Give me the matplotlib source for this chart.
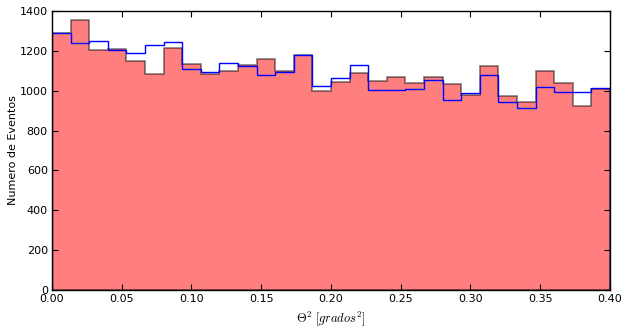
import numpy as np
import matplotlib
matplotlib.use("Agg")
import matplotlib.pyplot as plt

plt.rcParams["mathtext.fontset"] = "cm"
plt.rcParams["font.size"] = 8

# 30 bins of theta^2 between 0 and 0.4 deg^2
bin_edges = np.linspace(0.0, 0.4, 31)

# counts per bin, on-source (red) and background (blue)
on_counts = [1288, 1353, 1206, 1208, 1149, 1084, 1216, 1132, 1082, 1097,
             1127, 1159, 1099, 1181, 1000, 1045, 1087, 1050, 1067, 1037,
             1067, 1032, 977, 1126, 971, 942, 1097, 1040, 922, 1009]
off_counts = [1288, 1238, 1251, 1203, 1188, 1231, 1243, 1107, 1092, 1137,
              1122, 1078, 1092, 1181, 1025, 1062, 1129, 1005, 1002, 1009,
              1052, 953, 988, 1080, 943, 914, 1019, 993, 993, 1012]

centers = 0.5 * (bin_edges[:-1] + bin_edges[1:])

fig = plt.figure(figsize=(6.28, 3.32), dpi=100)
ax = fig.add_axes([0.0828, 0.1265, 0.8885, 0.8404])

ax.hist(centers, bins=bin_edges, weights=on_counts, histtype="stepfilled",
        facecolor="red", edgecolor="black", alpha=0.5, linewidth=1.2)
ax.hist(centers, bins=bin_edges, weights=off_counts, histtype="step",
        color="blue", linewidth=1.0)

ax.set_xlim(0, 0.4)
ax.set_ylim(0, 1400)
ax.set_xticks(np.arange(0, 0.401, 0.05))
ax.set_xticklabels(["%.2f" % t for t in np.arange(0, 0.401, 0.05)])
ax.set_yticks(np.arange(0, 1401, 200))
ax.tick_params(direction="in", top=True, right=True, length=4, pad=3)
for s in ax.spines.values():
    s.set_linewidth(1.0)

ax.set_xlabel(r"$\Theta^2\ [grados^2]$", fontsize=9)
ax.set_ylabel("Numero de Eventos", labelpad=1)

fig.savefig("out.png", dpi=100)
